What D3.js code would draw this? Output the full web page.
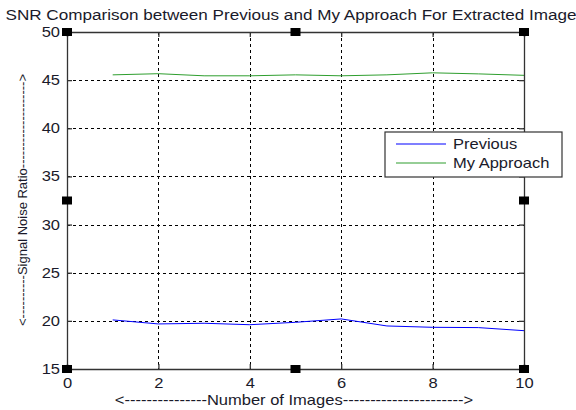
<!DOCTYPE html>
<html>
<head>
<meta charset="utf-8">
<script src="https://cdn.jsdelivr.net/npm/d3@7"></script>
<style>
  body { margin: 0; background: #fff; }
  text { font-family: "Liberation Sans", Arial, sans-serif; fill: #1a1a2a; }
</style>
</head>
<body>
<svg id="chart" width="576" height="410"></svg>
<script>
// data
const images = [1, 2, 3, 4, 5, 6, 7, 8, 9, 10];
const previous = [20.1, 19.68, 19.75, 19.6, 19.85, 20.2, 19.47, 19.33, 19.3, 18.98];
const myApproach = [45.55, 45.67, 45.45, 45.45, 45.55, 45.45, 45.55, 45.76, 45.65, 45.5];
const xTicks = [0, 2, 4, 6, 8, 10];
const yTicks = [15, 20, 25, 30, 35, 40, 45, 50];
const seriesNames = ["Previous", "My Approach"];
const seriesColors = ["#0000ff", "#2e9e2e"];

const width = 576, height = 410;
const margin = {top: 32, right: 52, bottom: 41, left: 67};
const stretch = 1.18; // the original text is a bit wide

const svg = d3.select("#chart");

const x = d3.scaleLinear().domain([0, 10]).range([margin.left, width - margin.right]);
const y = d3.scaleLinear().domain([15, 50]).range([height - margin.bottom, margin.top]);

// wide text helper
function label(px, py, str, size, anchor) {
  return svg.append("text")
    .attr("transform", `translate(${px},${py}) scale(${stretch},1)`)
    .attr("text-anchor", anchor || "start")
    .attr("font-size", size)
    .text(str);
}

// grid
const grid = svg.append("g").attr("stroke", "#000").attr("stroke-width", 1).attr("stroke-dasharray", "3,3");
xTicks.slice(1, -1).forEach(t => {
  grid.append("line").attr("x1", Math.round(x(t)) + 0.5).attr("x2", Math.round(x(t)) + 0.5)
    .attr("y1", y(50)).attr("y2", y(15));
});
yTicks.slice(1, -1).forEach(t => {
  grid.append("line").attr("y1", Math.round(y(t)) + 0.5).attr("y2", Math.round(y(t)) + 0.5)
    .attr("x1", x(0)).attr("x2", x(10));
});

// lines
const line = d3.line().x((d, i) => x(images[i])).y(d => y(d));
[previous, myApproach].forEach((s, k) => {
  svg.append("path").attr("d", line(s)).attr("fill", "none")
    .attr("stroke", seriesColors[k]).attr("stroke-width", 1);
});

// axes with inward ticks, box around
const axisColor = "#333";
const gB = svg.append("g").attr("transform", `translate(0,${y(15)})`)
  .call(d3.axisBottom(x).tickValues(xTicks).tickSize(-5).tickPadding(9).tickSizeOuter(0));
const gT = svg.append("g").attr("transform", `translate(0,${y(50)})`)
  .call(d3.axisTop(x).tickValues(xTicks).tickSize(-5).tickFormat("").tickSizeOuter(0));
const gL = svg.append("g").attr("transform", `translate(${x(0)},0)`)
  .call(d3.axisLeft(y).tickValues(yTicks).tickSize(-5).tickPadding(7).tickSizeOuter(0));
const gR = svg.append("g").attr("transform", `translate(${x(10)},0)`)
  .call(d3.axisRight(y).tickValues(yTicks).tickSize(-5).tickFormat("").tickSizeOuter(0));
[gB, gT, gL, gR].forEach(g => {
  g.selectAll("path, line").attr("stroke", axisColor).attr("stroke-width", 1.3);
  g.selectAll("text").attr("font-size", 14).attr("fill", "#1a1a2a")
    .attr("font-family", '"Liberation Sans", Arial, sans-serif');
});
gB.selectAll("text").attr("dy", "0.75em").attr("transform", `scale(${stretch},1)`);
gL.selectAll("text").each(function() {
  const t = d3.select(this);
  const tx = +t.attr("x");
  t.attr("x", null).attr("transform", `translate(${tx},0) scale(${stretch},1)`);
});

// selection handles
const handles = [[0, 50], [5, 50], [10, 50], [0, 32.5], [10, 32.5], [0, 15], [5, 15], [10, 15]];
svg.append("g").selectAll("rect").data(handles).join("rect")
  .attr("x", d => x(d[0]) - 5).attr("y", d => y(d[1]) - 4)
  .attr("width", 10).attr("height", 8).attr("fill", "#000");

// title and labels
label(291, 20, "SNR Comparison between Previous and My Approach For Extracted Image", 14.5, "middle");
label(294, 405, "<" + "-".repeat(15) + "Number of Images" + "-".repeat(22) + ">", 14, "middle");

svg.append("text").attr("transform", `translate(27,${200}) rotate(-90)`).attr("text-anchor", "middle")
  .attr("font-size", 13).text("<" + "-".repeat(10) + "Signal Noise Ratio" + "-".repeat(20) + ">");

// legend
const lg = svg.append("g").attr("transform", "translate(385,132)");
lg.append("rect").attr("width", 177).attr("height", 45).attr("fill", "#fff")
  .attr("stroke", "#333").attr("stroke-width", 1.2);
seriesNames.forEach((n, k) => {
  const yy = 12 + k * 19;
  lg.append("line").attr("x1", 11).attr("x2", 61).attr("y1", yy).attr("y2", yy)
    .attr("stroke", seriesColors[k]).attr("stroke-width", 1.2);
  lg.append("text").attr("transform", `translate(68,${yy + 5}) scale(${stretch},1)`)
    .attr("font-size", 14).text(n);
});
</script>
</body>
</html>
